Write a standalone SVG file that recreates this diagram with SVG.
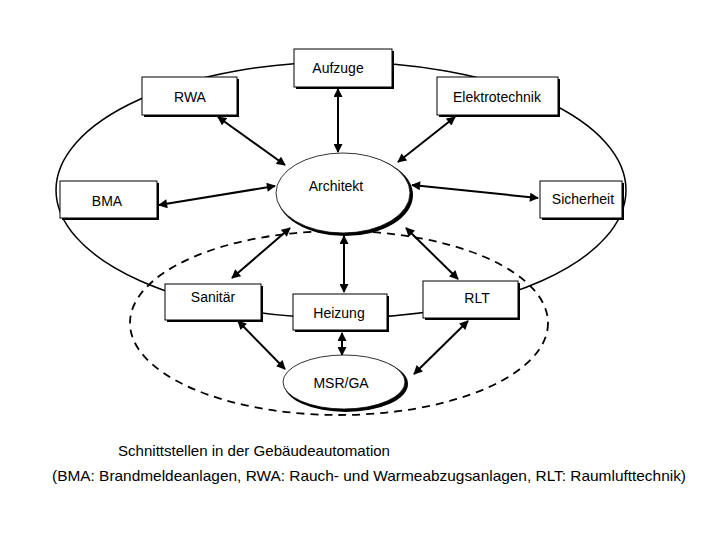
<svg xmlns="http://www.w3.org/2000/svg" width="720" height="540" viewBox="0 0 720 540">
<style>
.box{fill:#fff;stroke:#000;stroke-width:1}
.sh{fill:#000}
.lbl{font-family:"Liberation Sans",Arial,sans-serif;font-size:14px;fill:#000;text-anchor:middle}
.cap{font-family:"Liberation Sans",Arial,sans-serif;font-size:14.5px;fill:#000}
.con{stroke:#000;stroke-width:2;fill:none;marker-start:url(#ah);marker-end:url(#ah)}
</style>
<defs>
<marker id="ah" viewBox="0 0 10 10" refX="9" refY="5" markerWidth="10" markerHeight="9" orient="auto-start-reverse" markerUnits="userSpaceOnUse">
<path d="M0,0 L10,5 L0,10 z" fill="#000"/>
</marker>
</defs>
<rect width="720" height="540" fill="#fff"/>
<g id="rings">
<ellipse cx="341" cy="190" rx="285" ry="128" fill="none" stroke="#000" stroke-width="1.5"/>
<ellipse cx="339" cy="323" rx="209" ry="92" fill="none" stroke="#000" stroke-width="1.8" stroke-dasharray="8,6"/>
</g>
<g id="connectors">
<line class="con" x1="338" y1="89" x2="338" y2="152"/>
<line class="con" x1="218" y1="117" x2="285" y2="165"/>
<line class="con" x1="455" y1="117" x2="398" y2="162"/>
<line class="con" x1="159" y1="205" x2="275" y2="186"/>
<line class="con" x1="412" y1="185" x2="538" y2="198"/>
<line class="con" x1="290" y1="228" x2="232" y2="278"/>
<line class="con" x1="344" y1="236" x2="344" y2="292"/>
<line class="con" x1="406" y1="228" x2="458" y2="279"/>
<line class="con" x1="238" y1="321" x2="285" y2="369"/>
<line class="con" x1="342" y1="333" x2="342" y2="355"/>
<line class="con" x1="468" y1="321" x2="414" y2="374"/>
</g>
<g id="aufzuge">
<rect class="sh" x="296" y="51" width="98" height="38"/>
<rect class="box" x="294" y="49" width="98" height="38"/>
<text class="lbl" x="338" y="73">Aufzuge</text>
</g>
<g id="rwa">
<rect class="sh" x="144" y="79" width="95" height="38"/>
<rect class="box" x="142" y="77" width="95" height="38"/>
<text class="lbl" x="190" y="102">RWA</text>
</g>
<g id="elektrotechnik">
<rect class="sh" x="439" y="79" width="121" height="38"/>
<rect class="box" x="437" y="77" width="121" height="38"/>
<text class="lbl" x="497" y="102">Elektrotechnik</text>
</g>
<g id="bma">
<rect class="sh" x="62" y="183" width="97" height="37"/>
<rect class="box" x="60" y="181" width="97" height="37"/>
<text class="lbl" x="107" y="206">BMA</text>
</g>
<g id="sicherheit">
<rect class="sh" x="542" y="183" width="82" height="37"/>
<rect class="box" x="540" y="181" width="82" height="37"/>
<text class="lbl" x="583" y="204">Sicherheit</text>
</g>
<g id="architekt">
<ellipse cx="345" cy="195" rx="68" ry="41" fill="#000"/>
<ellipse cx="343" cy="193" rx="67" ry="40" fill="#fff" stroke="#000" stroke-width="0.8"/>
<text class="lbl" x="336" y="191">Architekt</text>
</g>
<g id="sanitaer">
<rect class="sh" x="167" y="286" width="96" height="36"/>
<rect class="box" x="165" y="284" width="96" height="36"/>
<text class="lbl" x="213" y="302">Sanitär</text>
</g>
<g id="heizung">
<rect class="sh" x="295" y="296" width="94" height="36"/>
<rect class="box" x="293" y="294" width="94" height="36"/>
<text class="lbl" x="339" y="318">Heizung</text>
</g>
<g id="rlt">
<rect class="sh" x="425" y="283" width="95" height="37"/>
<rect class="box" x="423" y="281" width="95" height="37"/>
<text class="lbl" x="477" y="303">RLT</text>
</g>
<g id="msrga">
<ellipse cx="346" cy="384" rx="62" ry="28" fill="#000"/>
<ellipse cx="344" cy="382" rx="61" ry="27" fill="#fff" stroke="#000" stroke-width="0.8"/>
<text class="lbl" x="341" y="388">MSR/GA</text>
</g>
<g id="caption">
<text class="cap" x="118" y="456" textLength="272" lengthAdjust="spacingAndGlyphs">Schnittstellen in der Gebäudeautomation</text>
<text class="cap" x="52" y="481" textLength="634" lengthAdjust="spacingAndGlyphs">(BMA: Brandmeldeanlagen, RWA: Rauch- und Warmeabzugsanlagen, RLT: Raumlufttechnik)</text>
</g>
</svg>
